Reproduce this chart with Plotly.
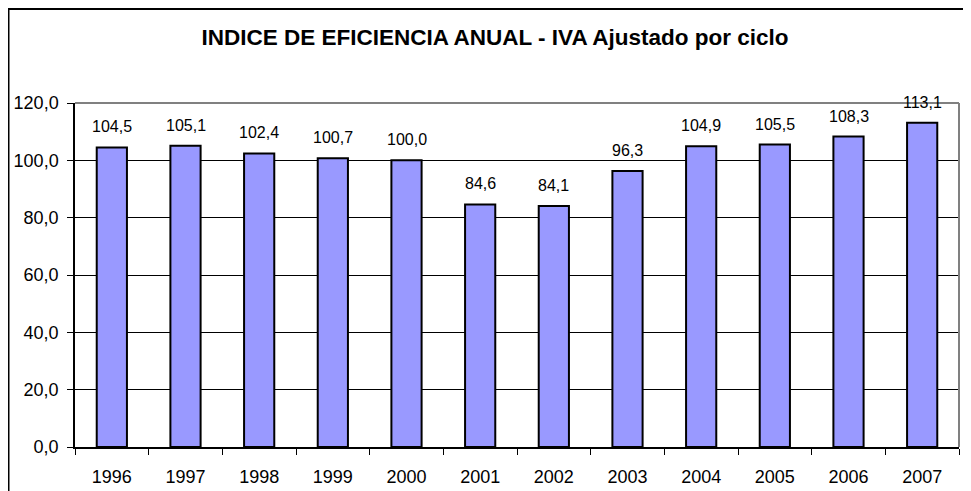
import plotly.graph_objects as go

# Data
years = ["1996", "1997", "1998", "1999", "2000", "2001",
         "2002", "2003", "2004", "2005", "2006", "2007"]
indice = [104.5, 105.1, 102.4, 100.7, 100.0, 84.6,
          84.1, 96.3, 104.9, 105.5, 108.3, 113.1]
labels = [f"{v:.1f}".replace(".", ",") for v in indice]

W, H = 971, 491
off = 8  # page body margin shifts the figure by 8px right/down
ml, mr, mt, mb = 75 - off, 12 + off, 103 - off, 44 + off
font = "Liberation Sans, Arial, sans-serif"

fig = go.Figure()
fig.add_trace(go.Bar(
    x=years,
    y=indice,
    marker=dict(color="#9999FF", line=dict(color="black", width=2)),
    hoverinfo="x+y",
))

# value labels above the bars (category index, since years look numeric)
for i, (v, t) in enumerate(zip(indice, labels)):
    fig.add_annotation(x=i, y=v, text=t, showarrow=False,
                       yanchor="bottom", yshift=10,
                       font=dict(family=font, size=16, color="black"))

# outer chart border (left/top visible, rest runs off the picture)
pw = W - ml - mr
ph = H - mt - mb
fig.add_shape(type="rect", xref="paper", yref="paper",
              x0=(0.5 - ml) / pw, x1=(W + 12 - ml) / pw,
              y0=-(mb + 12) / ph, y1=(H - 1 - mb) / ph,
              line=dict(color="black", width=2), layer="below")

# plot area border: gray top/right
fig.add_shape(type="line", xref="paper", yref="paper", x0=0, x1=1, y0=1, y1=1,
              line=dict(color="#808080", width=2))
fig.add_shape(type="line", xref="paper", yref="paper", x0=1, x1=1, y0=0, y1=1,
              line=dict(color="#808080", width=2))

fig.update_layout(
    width=W, height=H,
    margin=dict(l=ml, r=mr, t=mt, b=mb),
    paper_bgcolor="white",
    plot_bgcolor="white",
    separators=",.",
    bargap=0.59,
    showlegend=False,
    font=dict(family=font, color="black"),
    title=dict(text="<b>INDICE DE EFICIENCIA ANUAL - IVA Ajustado por ciclo</b>",
               x=(495 - off) / W, xanchor="center", xref="container",
               y=1 - (37 - off) / H, yanchor="middle", yref="container",
               font=dict(family=font, size=22.5, color="black")),
    xaxis=dict(
        type="category", automargin=False,
        showline=True, linecolor="black", linewidth=1.5,
        ticks="outside", ticklen=6, tickcolor="black", tickson="boundaries",
        tickfont=dict(family=font, size=18, color="black"),
        tickangle=0, ticklabelstandoff=13,
        showgrid=False,
    ),
    yaxis=dict(
        range=[0, 120], dtick=20, tickformat=".1f", automargin=False,
        showline=True, linecolor="black", linewidth=1.5,
        ticks="outside", ticklen=6, tickcolor="black",
        tickfont=dict(family=font, size=18, color="black"),
        ticklabelstandoff=5,
        showgrid=True, gridcolor="black", gridwidth=1,
        zeroline=False,
    ),
)

fig.write_html("out.html")
